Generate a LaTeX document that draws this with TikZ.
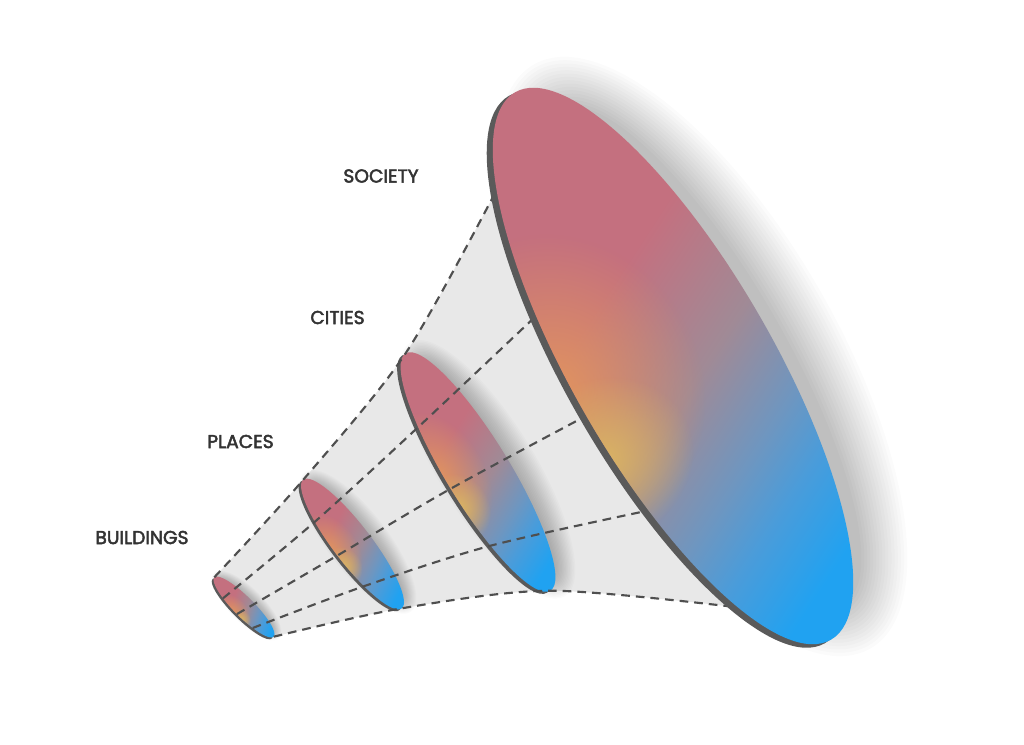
\documentclass[tikz,border=0pt]{standalone}
\usepackage{fontspec}
\newfontfamily\labelfont{Poppins}[FakeBold=2.5]
\usetikzlibrary{fadings}
\definecolor{rose}{HTML}{C4707F}
\definecolor{mauve}{HTML}{A08A96}
\definecolor{bluegray}{HTML}{6E96C0}
\definecolor{skyA}{HTML}{4A9CDA}
\definecolor{skyB}{HTML}{20A2F1}
\definecolor{orangeglow}{HTML}{E2955E}
\definecolor{yellowglow}{HTML}{DDBA60}
\definecolor{rimgray}{HTML}{5A5A5A}
\definecolor{funnelgray}{HTML}{E8E8E8}
\definecolor{dashgray}{HTML}{4F4F4F}
\definecolor{labelgray}{HTML}{333333}
% the path box is mapped onto 25bp..75bp of the shading
\pgfdeclarehorizontalshading{discgrad}{100bp}{color(0bp)=(rose); color(43bp)=(rose); color(52bp)=(mauve); color(58.5bp)=(bluegray); color(62.5bp)=(skyA); color(68bp)=(skyB); color(100bp)=(skyB)}
\tikzfading[name=glowfade, inner color=transparent!0, outer color=transparent!100]
% #1 cx, #2 cy, #3 a, #4 b, #5 angle, #6 rim offset, #7 shadow step
\newcommand\drawdisc[7]{%
\begin{scope}[transform canvas={shift={(#1,#2)}, rotate=-#5}]
  \foreach \i in {0,...,15}{
    \fill[black, opacity=0.017] (0.02*#3, -0.3*#4) ellipse [x radius={#3+(\i-9)*#7}, y radius={#4+(\i-5)*#7}];
  }
  \fill[rimgray] (0,#6) ellipse [x radius=#3, y radius=#4];
  \begin{scope}
    \clip (0,0) ellipse [x radius=#3, y radius=#4];
    \begin{scope}[transform canvas={rotate=27}]
      \shade[shading=discgrad] (-1.08*#3,-1.2*#3) rectangle (1.08*#3,1.2*#3);
    \end{scope}
    \fill[orangeglow, opacity=0.95, path fading=glowfade] (-0.12*#3, 1.12*#4) ellipse [x radius=0.5*#3, y radius=1.45*#4];
    \fill[yellowglow, opacity=0.9, path fading=glowfade] (0.15*#3, 1.1*#4) ellipse [x radius=0.26*#3, y radius=0.95*#4];
  \end{scope}
\end{scope}}
\tikzset{
  lbl/.style={font=\labelfont\fontsize{14}{16}\selectfont, text=labelgray, inner sep=0pt},
  funnelline/.style={draw=dashgray, line width=1.6pt, dash pattern=on 6.5pt off 4.5pt}
}
\begin{document}
\begin{tikzpicture}[x=0.75pt, y=-0.75pt]
\useasboundingbox (0,0) rectangle (1024,745);
\fill[white] (0,0) rectangle (1024,745);
% points on the discs
\coordinate (b1) at (214.3,577.3); \coordinate (b2) at (223.0,598.3); \coordinate (b3) at (236.9,614.1); \coordinate (b4) at (252.7,628.0); \coordinate (b5) at (273.7,636.7);
\coordinate (p1) at (303.3,479.7); \coordinate (p2) at (314.8,521.8); \coordinate (p3) at (337.4,555.5); \coordinate (p4) at (364.0,586.2); \coordinate (p5) at (401.7,608.3);
\coordinate (c1) at (405.6,353.3); \coordinate (c2) at (418.2,427.1); \coordinate (c3) at (450.7,488.7); \coordinate (c4) at (490.6,545.7); \coordinate (c5) at (550.4,590.7);
\coordinate (s1) at (495,193); \coordinate (s2) at (537,315); \coordinate (s3) at (584,417); \coordinate (s4) at (646,511); \coordinate (s5) at (735,607);
\coordinate (inside) at (640,380);
% funnel
\fill[funnelgray] plot[smooth, tension=0.5] coordinates {(b1) (p1) (c1) (s1)} -- (inside) -- plot[smooth, tension=0.5] coordinates {(s5) (c5) (p5) (b5)} -- cycle;
% small discs
\drawdisc{244}{607}{42}{10}{45}{2.5}{0.7}
\drawdisc{352.5}{544}{81}{19}{52.6}{3}{1.1}
\drawdisc{478}{472}{139}{32}{58.6}{4}{1.6}
% dashed lines
\draw[funnelline] plot[smooth, tension=0.5] coordinates {(b1) (p1) (c1) (s1)};
\draw[funnelline] plot[smooth, tension=0.5] coordinates {(b2) (p2) (c2) (s2)};
\draw[funnelline] plot[smooth, tension=0.5] coordinates {(b3) (p3) (c3) (s3)};
\draw[funnelline] plot[smooth, tension=0.5] coordinates {(b4) (p4) (c4) (s4)};
\draw[funnelline] plot[smooth, tension=0.5] coordinates {(b5) (p5) (c5) (s5)};
% big disc
\drawdisc{673}{366}{316}{100}{60}{7}{3.5}
% labels
\node[lbl] (society) at (381,176) {SOCIETY};
\node[lbl] (cities) at (337.5,317.5) {CITIES};
\node[lbl] (places) at (240.5,441.5) {PLACES};
\node[lbl] (buildings) at (142,537.5) {BUILDINGS};
\end{tikzpicture}
\end{document}
